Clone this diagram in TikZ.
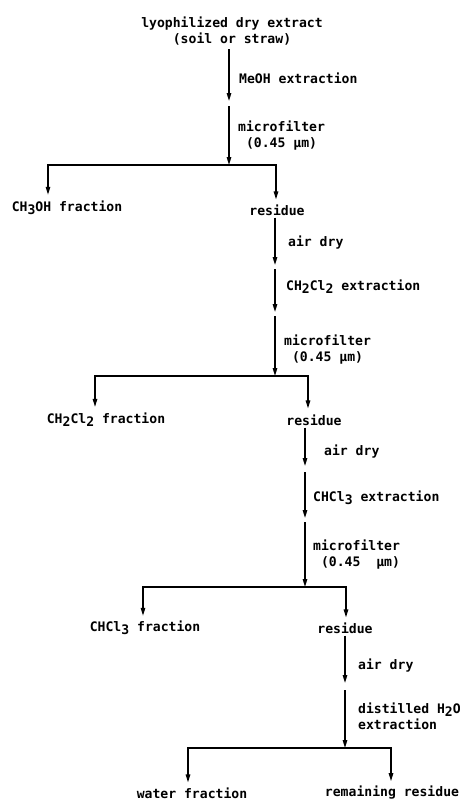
\documentclass[tikz,border=0pt]{standalone}
\usepackage{fontspec}
\setmonofont{DejaVu Sans Mono}
\usetikzlibrary{arrows.meta}
\newcommand\lowd[1]{\raisebox{-0.45ex}{#1}}
\newcommand\ind{\hphantom{x}}
\begin{document}
\begin{tikzpicture}[x=1pt,y=-1pt,
  every node/.style={font=\ttfamily\bfseries\fontsize{13.1}{16}\selectfont, inner sep=1pt},
  lbl/.style={anchor=west, align=left},
  flow/.style={line width=1.3pt, -{Triangle[length=8pt,width=4.5pt]}},
  bar/.style={line width=1.8pt, line cap=rect},
  ]
\useasboundingbox (0,0) rectangle (460,803);

% ---- level 1
\node[align=center] (top) at (232,31) {lyophilized dry extract\\(soil or straw)};
\coordinate (m1a) at (229,101);
\coordinate (m1b) at (229,106);
\coordinate (j1) at (229,165);
\coordinate (l1) at (48,165);
\coordinate (r1) at (276,165);
\node[lbl] (t1) at (238,78) {MeOH extraction};
\node[lbl] (t2) at (237,136) {microfilter\\\ind(0.45 μm)};
\node (f1) at (67,208) {CH\lowd{3}OH fraction};
\node (res1) at (277,210) {residue};
\draw[flow] ([yshift=-3pt]top.south -| m1a) -- (m1a);
\draw[flow] (m1b) -- (j1);
\draw[bar] (l1) -- (r1);
\draw[flow] (l1) -- ([yshift=5pt]f1.north -| l1);
\draw[flow] (r1) -- ([yshift=4pt]res1.north -| r1);

% ---- level 2
\coordinate (m2a) at (275,265);
\coordinate (m2b) at (275,269);
\coordinate (m2c) at (275,312);
\coordinate (m2d) at (275,316);
\coordinate (j2) at (275,376);
\coordinate (l2) at (95,376);
\coordinate (r2) at (308,376);
\node[lbl] (t3) at (287,243) {air dry};
\node[lbl] (t4) at (285,287) {CH\lowd{2}Cl\lowd{2} extraction};
\node[lbl] (t5) at (283,350) {microfilter\\\ind(0.45 μm)};
\node (f2) at (106,420) {CH\lowd{2}Cl\lowd{2} fraction};
\node (res2) at (314,420) {residue};
\draw[flow] ([yshift=-1pt]res1.south -| m2a) -- (m2a);
\draw[flow] (m2b) -- (m2c);
\draw[flow] (m2d) -- (j2);
\draw[bar] (l2) -- (r2);
\draw[flow] (l2) -- ([yshift=5pt]f2.north -| l2);
\draw[flow] (r2) -- ([yshift=5pt]res2.north -| r2);

% ---- level 3
\coordinate (m3a) at (305,466);
\coordinate (m3b) at (305,472);
\coordinate (m3c) at (305,518);
\coordinate (m3d) at (305,522);
\coordinate (j3) at (305,587);
\coordinate (l3) at (143,587);
\coordinate (r3) at (346,587);
\node[lbl] (t6) at (323,452) {air dry};
\node[lbl] (t7) at (312,498) {CHCl\lowd{3} extraction};
\node[lbl] (t8) at (312,555) {microfilter\\\ind(0.45\ \ μm)};
\node (f3) at (145,628) {CHCl\lowd{3} fraction};
\node (res3) at (345,628) {residue};
\draw[flow] ([yshift=-1pt]res2.south -| m3a) -- (m3a);
\draw[flow] (m3b) -- (m3c);
\draw[flow] (m3d) -- (j3);
\draw[bar] (l3) -- (r3);
\draw[flow] (l3) -- ([yshift=4pt]f3.north -| l3);
\draw[flow] (r3) -- ([yshift=4pt]res3.north -| r3);

% ---- level 4
\coordinate (m4a) at (345,683);
\coordinate (m4b) at (345,690);
\coordinate (j4) at (345,748);
\coordinate (l4) at (188,748);
\coordinate (r4) at (391,748);
\node[lbl] (t9) at (357,666) {air dry};
\node[lbl] (t10) at (357,716) {distilled H\lowd{2}O\\extraction};
\node (f4) at (192,793) {water fraction};
\node (res4) at (392,793) {remaining residue};
\draw[flow] ([yshift=-1pt]res3.south -| m4a) -- (m4a);
\draw[flow] (m4b) -- (j4);
\draw[bar] (l4) -- (r4);
\draw[flow] (l4) -- ([yshift=4pt]f4.north -| l4);
\draw[flow] (r4) -- ([yshift=4pt]res4.north -| r4);
\end{tikzpicture}
\end{document}
